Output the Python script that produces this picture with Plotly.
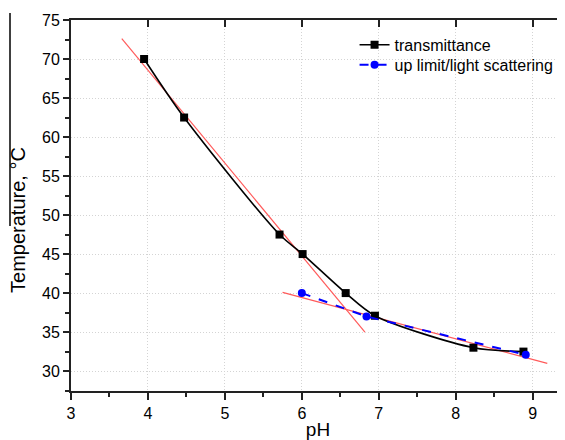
import plotly.graph_objects as go

# transmittance (black squares, smooth curve)
trans_ph = [3.95, 4.47, 5.71, 6.01, 6.57, 6.95, 8.23, 8.88]
trans_t = [70.0, 62.5, 47.5, 45.0, 40.0, 37.1, 33.0, 32.5]

# up limit / light scattering (blue dashed)
scat_ph = [6.0, 6.84, 8.91]
scat_t = [40.0, 37.0, 32.1]

# red guide lines (two linear fits)
fit1_ph = [3.66, 6.82]
fit1_t = [72.6, 35.0]
fit2_ph = [5.75, 9.19]
fit2_t = [40.1, 31.0]

FONT = "Liberation Sans, Arial, sans-serif"

fig = go.Figure()

for xs, ys in [(fit1_ph, fit1_t), (fit2_ph, fit2_t)]:
    fig.add_trace(go.Scatter(x=xs, y=ys, mode="lines", showlegend=False,
                             line=dict(color="#ff5a5a", width=1.2), hoverinfo="skip"))

fig.add_trace(go.Scatter(
    x=trans_ph, y=trans_t, mode="lines+markers", name="transmittance",
    line=dict(color="black", width=1.6, shape="spline", smoothing=0.8),
    marker=dict(symbol="square", size=8, color="black"), legend="legend"))

fig.add_trace(go.Scatter(
    x=scat_ph, y=scat_t, mode="lines+markers", name="up limit/light scattering",
    line=dict(color="blue", width=2, dash="dash"),
    marker=dict(symbol="circle", size=8, color="blue"), legend="legend2"))

# invisible trace so the top axis gets drawn
fig.add_trace(go.Scatter(x=[], y=[], xaxis="x2", showlegend=False))

GRID = dict(showgrid=True, gridcolor="#d4d4d4", griddash="1px,2px", gridwidth=1)
LEG = dict(xanchor="left", yanchor="top", bgcolor="rgba(0,0,0,0)",
           font=dict(size=16), itemwidth=30)

fig.update_layout(
    width=557, height=432,
    margin=dict(l=63, r=0, t=12, b=49),
    paper_bgcolor="white", plot_bgcolor="white",
    font=dict(family=FONT, color="black"),
    showlegend=True,
    legend=dict(x=0.574, y=0.979, **LEG),
    legend2=dict(x=0.574, y=0.925, **LEG),
    xaxis=dict(
        range=[3, 9.42], dtick=1, tick0=3, automargin=False,
        showline=True, linecolor="#222", linewidth=2,
        ticks="outside", ticklen=7, tickwidth=2, tickcolor="#222",
        minor=dict(ticks="outside", ticklen=4, tickwidth=2, tickcolor="#222",
                   dtick=0.5, showgrid=False),
        zeroline=False,
        tickfont=dict(size=16),
        title=dict(text="pH", font=dict(size=19), standoff=2),
        **GRID,
    ),
    xaxis2=dict(
        overlaying="x", side="top", range=[3, 9.42], dtick=1, tick0=3,
        automargin=False,
        showline=True, linecolor="#222", linewidth=2,
        ticks="inside", ticklen=7, tickwidth=2, tickcolor="#222",
        showticklabels=False, showgrid=False, zeroline=False,
    ),
    yaxis=dict(
        range=[27.45, 75], dtick=5, tick0=30, automargin=False,
        showline=True, linecolor="#222", linewidth=2,
        ticks="outside", ticklen=6, tickwidth=2, tickcolor="#222",
        minor=dict(ticks="outside", ticklen=4, tickwidth=2, tickcolor="#222",
                   dtick=2.5, showgrid=False),
        zeroline=False,
        tickfont=dict(size=16),
        **GRID,
    ),
    annotations=[dict(text="Temperature, °C", textangle=-90, showarrow=False,
                      xref="paper", yref="paper", x=(18 - 71) / 494, y=0.461,
                      xanchor="center", yanchor="middle", font=dict(size=20))],
    shapes=[dict(type="line", xref="paper", yref="paper",
                 x0=(10 - 71) / 494, x1=(10 - 71) / 494,
                 y0=1 - (13 - 20) / 371, y1=1 - (226 - 20) / 371,
                 line=dict(color="black", width=1.5))],
)

fig.write_html("out.html")
